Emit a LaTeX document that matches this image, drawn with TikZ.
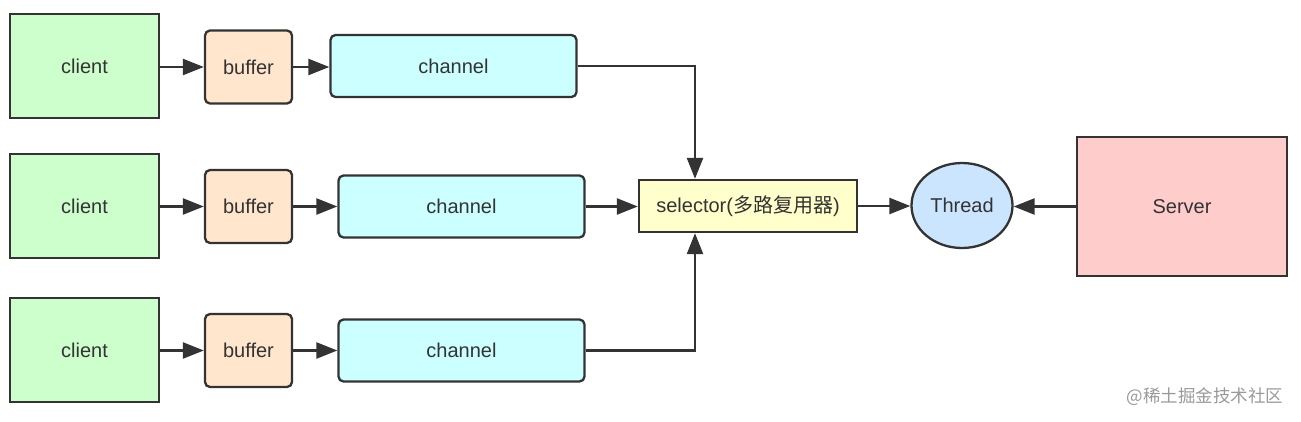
\documentclass[tikz,border=0pt]{standalone}
\usepackage{fontspec}
\setmainfont{Liberation Sans}
\newfontfamily\cjk{Noto Sans CJK SC}
\usetikzlibrary{arrows.meta,shapes.geometric}
\definecolor{edge}{HTML}{333333}
\definecolor{txt}{HTML}{333333}
\definecolor{clientfill}{HTML}{CCFFCC}
\definecolor{bufferfill}{HTML}{FFE6CC}
\definecolor{channelfill}{HTML}{CCFFFF}
\definecolor{selectorfill}{HTML}{FFFFCC}
\definecolor{threadfill}{HTML}{CCE5FF}
\definecolor{serverfill}{HTML}{FFCCCC}
\begin{document}
\begin{tikzpicture}[x=1pt,y=-1pt,
  base/.style={draw=edge, line width=2.3pt, text=txt, inner sep=0pt,
    font=\fontsize{20}{23}\selectfont},
  clientbox/.style={base, fill=clientfill, minimum width=149pt, minimum height=104pt},
  bufferbox/.style={base, fill=bufferfill, rounded corners=5pt, minimum width=87pt, minimum height=73pt},
  channelbox/.style={base, fill=channelfill, rounded corners=5pt, minimum width=246pt, minimum height=62pt},
  selectorbox/.style={base, fill=selectorfill, minimum width=218pt, minimum height=52pt},
  threadnode/.style={base, ellipse, fill=threadfill, minimum width=101pt, minimum height=85pt},
  serverbox/.style={base, fill=serverfill, minimum width=210pt, minimum height=139pt},
  link/.style={draw=edge, line width=2.3pt, -{Triangle[length=21pt,width=16pt]}},
]
\useasboundingbox (0,0) rectangle (1301,421);

% client -> buffer -> channel rows
\node[clientbox] (c1) at (84.5,66) {client};
\node[clientbox] (c2) at (84.5,206) {client};
\node[clientbox] (c3) at (84.5,350) {client};

\node[bufferbox] (b1) at (248.5,67) {buffer};
\node[bufferbox] (b2) at (248.5,206.5) {buffer};
\node[bufferbox] (b3) at (248.5,350.5) {buffer};

\node[channelbox] (ch1) at (453.5,66) {channel};
\node[channelbox] (ch2) at (461.5,206.5) {channel};
\node[channelbox] (ch3) at (461.5,350.5) {channel};

% multiplexer, worker thread and server
\node[selectorbox] (sel) at (748,206) {selector({\cjk 多路复用器})};
\node[threadnode] (thr) at (962,205.5) {Thread};
\node[serverbox] (srv) at (1182,206.5) {Server};

\coordinate (k1) at (695,66);
\coordinate (k3) at (695,350.5);

\draw[link] (c1.east |- b1.west) -- (b1.west);
\draw[link] (c2.east |- b2.west) -- (b2.west);
\draw[link] (c3.east |- b3.west) -- (b3.west);

\draw[link] (b1.east) -- (b1.east -| ch1.west);
\draw[link] (b2.east) -- (ch2.west);
\draw[link] (b3.east) -- (ch3.west);

\draw[link] (ch1.east) -- (k1) -- (k1 |- sel.north);
\draw[link] (ch2.east) -- (ch2.east -| sel.west);
\draw[link] (ch3.east) -- (k3) -- (k3 |- sel.south);

\draw[link] (sel.east) -- (sel.east -| thr.west);
\draw[link] (srv.west) -- (srv.west -| thr.east);

% site mark
\node[text=black!40, font=\cjk\fontsize{17.5}{20}\selectfont, anchor=east] (mark) at (1287,397) {@稀土掘金技术社区};
\end{tikzpicture}
\end{document}
